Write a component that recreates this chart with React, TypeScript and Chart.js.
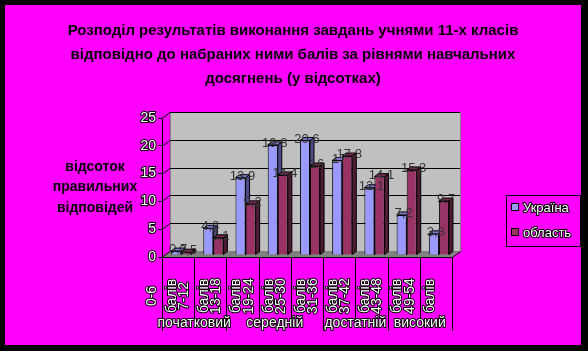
import React, { useEffect, useRef } from "react";
import { Chart, registerables } from "chart.js";

Chart.register(...registerables);

const titleLines = [
  "Розподіл результатів виконання завдань учнями 11-х класів",
  "відповідно до набраних ними балів за рівнями навчальних",
  "досягнень (у відсотках)",
];
const yTitleLines = ["відсоток", "правильних", "відповідей"];
const ranges = ["0-6", "7-12", "13-18", "19-24", "25-30", "31-36", "37-42", "43-48", "49-54"];
const unitWord = "балів";
const categories = ranges.map((r) => `${r} ${unitWord}`);
const seriesNames = ["Україна", "область"];
const ukraine = [0.7, 4.8, 13.9, 19.8, 20.6, 17, 12.1, 7.2, 3.8];
const oblast = [0.5, 3.1, 9.2, 14.4, 16, 17.8, 14.1, 15.3, 9.7];
const levels = ["початковий", "середній", "достатній", "високий"];
const levelSpans = [2, 3, 2, 2];
const yMin = 0;
const yMax = 25;
const yStep = 5;

const COLORS = {
  frame: "#000000",
  bg: "#FF00FF",
  wall: "#C0C0C0",
  floor: "#808080",
  front: ["#9999FF", "#993366"],
  side: ["#4D4D8C", "#4D1A33"],
  top: ["#7A7AD0", "#7A2952"],
};
const SANS = "'Liberation Sans', Arial, sans-serif";
const NARROW = "'Liberation Sans Narrow', 'Arial Narrow', 'Liberation Sans', sans-serif";
const WALL_DX = 8;
const WALL_DY = -6;
const BAR_DX = 4;
const BAR_DY = -3;
const BAR_SHIFT_X = 3;
const BAR_SHIFT_Y = -2;

function outlined(ctx: CanvasRenderingContext2D, text: string, x: number, y: number) {
  ctx.lineJoin = "round";
  ctx.lineWidth = 2;
  ctx.strokeStyle = "#000";
  ctx.strokeText(text, x, y);
  ctx.fillStyle = "#fff";
  ctx.fillText(text, x, y);
}

function fmt(v: number) {
  return String(v).replace(".", ",");
}

const decorPlugin = {
  id: "decor",
  beforeDraw(chart: any) {
    const { ctx, chartArea } = chart;
    const ys = chart.scales.y;
    const W = chart.width;
    const H = chart.height;
    ctx.save();
    ctx.fillStyle = COLORS.frame;
    ctx.fillRect(0, 0, W, H);
    ctx.fillStyle = COLORS.bg;
    ctx.fillRect(5, 5, 576, 340);

    const { left, right, top, bottom } = chartArea;
    ctx.fillStyle = COLORS.wall;
    ctx.fillRect(left + WALL_DX, top + WALL_DY, right - left, bottom - top);
    ctx.strokeStyle = "#808080";
    ctx.lineWidth = 1;
    ctx.strokeRect(left + WALL_DX + 0.5, top + WALL_DY + 0.5, right - left, bottom - top);
    ctx.fillStyle = COLORS.floor;
    ctx.beginPath();
    ctx.moveTo(left, bottom);
    ctx.lineTo(right, bottom);
    ctx.lineTo(right + WALL_DX, bottom + WALL_DY);
    ctx.lineTo(left + WALL_DX, bottom + WALL_DY);
    ctx.closePath();
    ctx.fill();
    ctx.strokeStyle = "#000";
    ctx.beginPath();
    ctx.moveTo(right + 0.5, bottom + 0.5);
    ctx.lineTo(right + WALL_DX + 0.5, bottom + WALL_DY + 0.5);
    ctx.stroke();
    ctx.strokeStyle = "#000";
    ctx.lineWidth = 1;
    for (let v = yMin; v <= yMax; v += yStep) {
      const y = Math.round(ys.getPixelForValue(v)) + 0.5;
      ctx.beginPath();
      ctx.moveTo(left, y);
      ctx.lineTo(left + WALL_DX, y + WALL_DY);
      if (v > yMin) ctx.lineTo(right + WALL_DX, y + WALL_DY);
      ctx.stroke();
    }
    ctx.restore();
  },
  beforeDatasetDraw() {
    return false;
  },
  afterDatasetsDraw(chart: any) {
    const { ctx } = chart;
    ctx.save();
    ctx.translate(BAR_SHIFT_X, BAR_SHIFT_Y);
    const metas = chart.data.datasets.map((_: any, di: number) => chart.getDatasetMeta(di));
    for (let i = 0; i < categories.length; i++) {
      metas.forEach((meta: any, di: number) => {
        const bar = meta.data[i];
        if (!bar) return;
        bar.draw(ctx);
        const l = bar.x - bar.width / 2;
        const r = bar.x + bar.width / 2;
        const t = bar.y;
        const b = bar.base;
        ctx.strokeStyle = "#000";
        ctx.lineWidth = 1;
        ctx.fillStyle = COLORS.side[di];
        ctx.beginPath();
        ctx.moveTo(r, t);
        ctx.lineTo(r + BAR_DX, t + BAR_DY);
        ctx.lineTo(r + BAR_DX, b + BAR_DY);
        ctx.lineTo(r, b);
        ctx.closePath();
        ctx.fill();
        ctx.stroke();
        ctx.fillStyle = COLORS.top[di];
        ctx.beginPath();
        ctx.moveTo(l, t);
        ctx.lineTo(l + BAR_DX, t + BAR_DY);
        ctx.lineTo(r + BAR_DX, t + BAR_DY);
        ctx.lineTo(r, t);
        ctx.closePath();
        ctx.fill();
        ctx.stroke();
      });
    }
    ctx.font = `13px ${SANS}`;
    ctx.fillStyle = "#333";
    ctx.textAlign = "center";
    ctx.textBaseline = "middle";
    chart.data.datasets.forEach((ds: any, di: number) => {
      metas[di].data.forEach((bar: any, i: number) => {
        ctx.fillText(fmt(ds.data[i]), bar.x + BAR_DX / 2, bar.y + BAR_DY / 2);
      });
    });
    ctx.restore();
  },
  afterDraw(chart: any) {
    const { ctx, chartArea } = chart;
    const xs = chart.scales.x;
    const { bottom } = chartArea;
    const w = xs.getPixelForValue(1) - xs.getPixelForValue(0);
    const boundary = (i: number) => xs.getPixelForValue(i) - w / 2;
    ctx.save();

    const groupEdges = new Set<number>([0]);
    let acc = 0;
    levelSpans.forEach((s) => {
      acc += s;
      groupEdges.add(acc);
    });
    ctx.strokeStyle = "#000";
    ctx.lineWidth = 1;
    for (let i = 0; i <= categories.length; i++) {
      const x = Math.round(boundary(i)) + 0.5;
      ctx.beginPath();
      ctx.moveTo(x, bottom);
      ctx.lineTo(x, groupEdges.has(i) ? 331 : 320);
      ctx.stroke();
    }

    ctx.font = `14px ${SANS}`;
    ctx.textAlign = "center";
    ctx.textBaseline = "middle";
    ranges.forEach((r, i) => {
      const b = boundary(i);
      [
        [r, b - 10],
        [unitWord, b + 10],
      ].forEach(([txt, x]) => {
        ctx.save();
        ctx.translate(x as number, 296);
        ctx.rotate(-Math.PI / 2);
        outlined(ctx, txt as string, 0, 0);
        ctx.restore();
      });
    });

    ctx.font = `14px ${SANS}`;
    let start = 0;
    levels.forEach((lv, gi) => {
      const end = start + levelSpans[gi];
      const cx = (boundary(start) + boundary(end)) / 2;
      outlined(ctx, lv, cx, 323);
      start = end;
    });

    ctx.font = `bold 15px ${SANS}`;
    ctx.fillStyle = "#000";
    titleLines.forEach((t, i) => ctx.fillText(t, 293, 31 + i * 24));

    ctx.font = `bold 14px ${SANS}`;
    yTitleLines.forEach((t, i) => ctx.fillText(t, 95, 167 + i * 20.5));

    ctx.strokeStyle = "#000";
    ctx.lineWidth = 1;
    ctx.strokeRect(506.5, 195.5, 74, 51);
    ctx.font = `13px ${SANS}`;
    ctx.textAlign = "left";
    seriesNames.forEach((n, i) => {
      const y = 203 + i * 25;
      ctx.fillStyle = COLORS.front[i];
      ctx.fillRect(511, y, 8, 8);
      ctx.strokeStyle = "#000";
      ctx.lineWidth = 1;
      ctx.strokeRect(511.5, y + 0.5, 7, 7);
      outlined(ctx, n, 523, y + 5);
    });
    ctx.restore();
  },
};

export default function App() {
  const ref = useRef<HTMLCanvasElement | null>(null);
  useEffect(() => {
    document.body.style.margin = "0";
    const canvas = ref.current!;
    const chart = new Chart(canvas, {
      type: "bar",
      data: {
        labels: categories,
        datasets: [
          {
            label: seriesNames[0],
            data: ukraine,
            backgroundColor: COLORS.front[0],
            borderColor: "#000",
            borderWidth: 1,
          },
          {
            label: seriesNames[1],
            data: oblast,
            backgroundColor: COLORS.front[1],
            borderColor: "#000",
            borderWidth: 1,
          },
        ],
      },
      options: {
        responsive: false,
        animation: false,
        devicePixelRatio: 1,
        layout: { padding: { top: 118, right: 136, bottom: 0, left: 0 } },
        plugins: {
          legend: { display: false },
          title: { display: false },
          tooltip: { enabled: false },
        },
        datasets: {
          bar: { categoryPercentage: 0.625, barPercentage: 1 },
        },
        scales: {
          x: {
            grid: { display: false },
            border: { display: true, color: "#000", width: 1 },
            ticks: { display: false },
            afterFit: (s: any) => {
              s.height = 94;
            },
          },
          y: {
            min: yMin,
            max: yMax,
            ticks: {
              stepSize: yStep,
              padding: 2,
              color: "#fff",
              textStrokeColor: "#000",
              textStrokeWidth: 2,
              font: { family: NARROW, size: 14 },
            },
            grid: {
              display: true,
              drawOnChartArea: false,
              drawTicks: true,
              tickLength: 4,
              color: "#000",
            },
            border: { display: true, color: "#000", width: 1 },
            afterFit: (s: any) => {
              s.width = 162;
            },
          },
        },
      },
      plugins: [decorPlugin],
    });
    return () => chart.destroy();
  }, []);
  return <canvas ref={ref} width={588} height={351} style={{ display: "block", width: 588, height: 351 }} />;
}
